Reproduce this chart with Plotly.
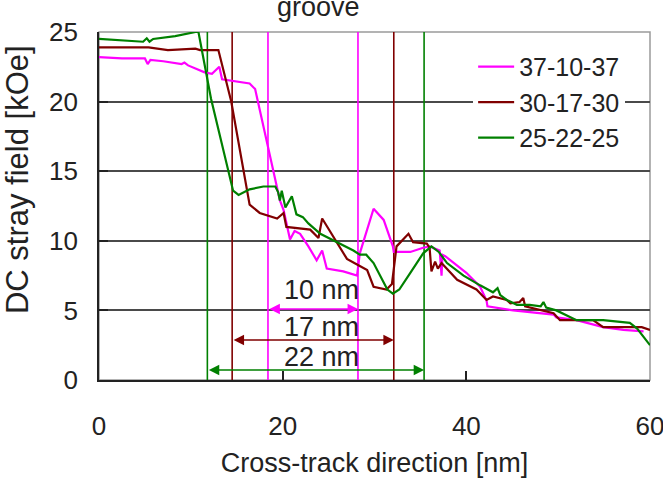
import plotly.graph_objects as go

# ---- data ----
series_names = ["37-10-37", "30-17-30", "25-22-25"]
series_colors = ["#ff00ff", "#800000", "#008000"]

x_m = [0, 2.5, 5.0, 5.3, 5.6, 7.0, 9.0, 9.3, 9.7, 11.5, 12.3, 13.1, 13.4, 16.4, 17.0, 19.0, 19.7, 20.1,
       20.8, 21.3, 21.9, 22.8, 23.7, 24.3, 24.8, 26.6, 28.1, 28.4, 29.9, 31.0, 32.0, 32.1, 33.9, 35.3,
       36.0, 37.1, 37.3, 37.4, 37.7, 40.0, 41.5, 42.2, 42.3, 45.1, 49.5, 49.8, 52.0, 54.9, 57.1, 59.3]
y_m = [23.2, 23.1, 23.1, 22.7, 23.0, 22.9, 22.7, 22.8, 22.6, 22.1, 22.0, 22.5, 21.6, 21.3, 20.9, 14.8, 12.9, 12.2,
       10.1, 10.7, 10.5, 9.6, 8.6, 9.3, 8.0, 7.8, 7.5, 9.1, 12.3, 11.5, 9.6, 9.2, 9.2, 9.5,
       9.6, 9.3, 7.5, 9.0, 8.9, 7.7, 6.7, 5.7, 5.3, 5.0, 4.7, 4.5, 4.3, 3.8, 3.6, 3.5]

x_r = [0, 2.5, 4.3, 5.4, 7.5, 10.5, 11.0, 13.0, 14.4, 16.4, 17.5, 19.4, 20.1, 20.4, 23.0, 23.9, 24.3, 25.9,
       27.0, 28.1, 29.2, 29.9, 31.3, 31.9, 32.4, 33.7, 34.2, 35.7, 36.0, 36.2, 36.6, 36.9, 37.3, 39.0,
       41.1, 42.2, 42.9, 44.4, 44.8, 45.8, 46.2, 46.4, 49.5, 50.2, 53.8, 54.9, 57.1, 58.2, 59.1, 60.0]
y_r = [23.9, 23.9, 23.95, 23.9, 23.7, 23.8, 23.7, 23.7, 20.0, 12.6, 12.0, 11.6, 12.0, 11.0, 10.8, 10.2, 11.6, 9.9,
       8.7, 8.3, 7.9, 6.7, 6.5, 6.9, 9.6, 10.5, 9.9, 9.8, 9.5, 7.8, 8.5, 8.0, 8.4, 7.2,
       6.5, 5.75, 6.0, 5.75, 5.5, 5.6, 5.9, 5.3, 4.8, 4.3, 4.3, 3.8, 3.8, 3.85, 3.8, 3.6]

x_g = [0, 3.2, 4.8, 5.2, 5.5, 5.9, 8.3, 10.5, 10.8, 12.2, 14.6, 15.2, 16.4, 17.9, 19.2, 19.5, 19.7, 19.9,
       20.3, 21.0, 21.5, 22.2, 22.8, 24.1, 25.9, 27.7, 28.4, 29.1, 29.9, 30.8, 31.4, 32.0, 32.7, 33.9,
       35.3, 36.2, 37.0, 37.9, 39.7, 41.5, 42.9, 43.4, 43.7, 44.4, 45.5, 46.9, 48.1, 48.4, 48.7, 49.8,
       52.0, 54.9, 57.8, 58.6, 59.3, 60.0]
y_g = [24.5, 24.4, 24.3, 24.55, 24.3, 24.5, 24.7, 25.0, 25.1, 20.2, 13.6, 13.3, 13.7, 13.9, 13.9, 13.5, 12.9, 13.6,
       12.4, 13.2, 11.9, 11.7, 11.25, 10.5, 9.9, 9.3, 9.0, 9.0, 8.4, 7.2, 6.5, 6.2, 6.5, 7.7,
       9.1, 9.6, 9.2, 8.4, 7.5, 6.8, 6.3, 6.6, 6.1, 5.75, 5.4, 5.4, 5.3, 5.6, 5.2, 5.0,
       4.3, 4.3, 4.1, 3.7, 3.1, 2.5]

# groove edges (vertical markers) per series: [left, right]
edges = [[18.4, 28.2], [14.5, 32.1], [11.8, 35.4]]
arrow_y = [5.1, 2.87, 0.72]
width_labels = ["10 nm", "17 nm", "22 nm"]
label_x = 24.2
label_y = [6.45, 3.8, 1.65]

xs = [x_m, x_r, x_g]
ys = [y_m, y_r, y_g]

FONT = "Liberation Sans, Arial, sans-serif"
TXT = "#222222"

fig = go.Figure()
for name, col, xv, yv in zip(series_names, series_colors, xs, ys):
    fig.add_trace(go.Scatter(x=xv, y=yv, mode="lines", name=name,
                             line=dict(color=col, width=2.2)))

shapes = []
# plot frame (gray) above gridlines
shapes.append(dict(type="rect", xref="paper", yref="paper", x0=0, x1=1, y0=0, y1=1,
                   line=dict(color="#9a9a9a", width=1.5), layer="between"))
for col, (xl, xr) in zip(series_colors, edges):
    for xv in (xl, xr):
        shapes.append(dict(type="line", xref="x", yref="y", x0=xv, x1=xv, y0=0, y1=25,
                           line=dict(color=col, width=1.6), layer="between"))

annotations = []
for col, (xl, xr), ay in zip(series_colors, edges, arrow_y):
    annotations.append(dict(x=xr, y=ay, ax=xl, ay=ay, xref="x", yref="y", axref="x", ayref="y",
                            text="", showarrow=True, arrowhead=2, startarrowhead=2,
                            arrowside="end+start", arrowsize=1.3, startarrowsize=1.3,
                            arrowwidth=1.6, arrowcolor=col, standoff=0, startstandoff=0))
for lab, ly in zip(width_labels, label_y):
    annotations.append(dict(x=label_x, y=ly, xref="x", yref="y", text=lab, showarrow=False,
                            font=dict(family=FONT, size=27, color=TXT),
                            xanchor="center", yanchor="middle"))
annotations.append(dict(x=23.85, y=1.072, xref="x", yref="paper", text="groove", showarrow=False,
                        font=dict(family=FONT, size=27, color=TXT), xanchor="center", yanchor="middle"))
# y-axis title (placed like the reference, slightly above the axis centre)
annotations.append(dict(x=-0.149, y=0.577, xref="paper", yref="paper", text="DC stray field [kOe]",
                        textangle=-90, showarrow=False, xanchor="center", yanchor="middle",
                        font=dict(family=FONT, size=31, color=TXT)))

fig.update_layout(
    width=663, height=478,
    margin=dict(l=99, r=13, t=32, b=98, autoexpand=False),
    paper_bgcolor="white", plot_bgcolor="white",
    font=dict(family=FONT, size=25, color=TXT),
    showlegend=True,
    legend=dict(x=0.679, y=0.966, xanchor="left", yanchor="top", bgcolor="white",
                font=dict(family=FONT, size=25, color=TXT), itemwidth=36),
    shapes=shapes, annotations=annotations,
    xaxis=dict(range=[0, 60], tickvals=[0, 20, 40, 60], ticks="inside", ticklen=9,
               tickcolor="#222", tickwidth=1.5, showline=True, linecolor="#222", linewidth=1.8,
               showgrid=False, zeroline=False, ticklabelstandoff=22, automargin=False,
               ticklabeloverflow="allow",
               tickfont=dict(family=FONT, size=26, color=TXT),
               title=dict(text="Cross-track direction [nm]", standoff=23,
                          font=dict(family=FONT, size=27, color=TXT))),
    yaxis=dict(range=[0, 25], tickvals=[0, 5, 10, 15, 20, 25], ticks="inside", ticklen=9,
               tickcolor="#222", tickwidth=1.5, showline=True, linecolor="#222", linewidth=1.8,
               showgrid=True, gridcolor="#4a4a4a", gridwidth=1.6, zeroline=False,
               ticklabelstandoff=14, automargin=False, ticklabeloverflow="allow",
               tickfont=dict(family=FONT, size=26, color=TXT)),
)

fig.write_html("out.html")
